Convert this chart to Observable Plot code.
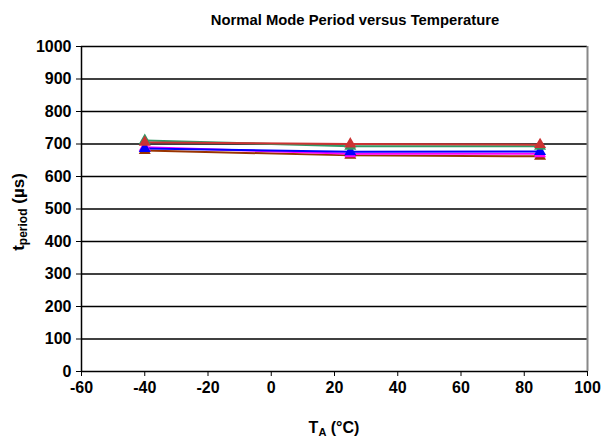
<!DOCTYPE html>
<html><head><meta charset="utf-8">
<script src="https://cdn.jsdelivr.net/npm/d3@7"></script>
<script src="https://cdn.jsdelivr.net/npm/@observablehq/plot@0.6"></script>
<style>body{margin:0;background:#fff;font-family:"Liberation Sans",Arial,sans-serif;}</style>
</head><body><div id="chart"></div>
<script>
const temps = [-40, 25, 85];
const seriesNames = ["S1", "S2", "S3", "S4", "S5"];
const seriesColors = ["#993300", "#FF00FF", "#0000FF", "#339966", "#CC3333"];
const seriesValues = [
  [680, 665, 662],
  [690, 670, 670],
  [686, 676, 677],
  [711, 693, 693],
  [705, 700, 698]
];
const xTicks = [-60, -40, -20, 0, 20, 40, 60, 80, 100];
const yTicks = [0, 100, 200, 300, 400, 500, 600, 700, 800, 900, 1000];

const data = [];
seriesNames.forEach((s, i) => temps.forEach((t, j) => data.push({series: s, t, v: seriesValues[i][j]})));

const W = 604, H = 444, mL = 81, mR = 17, mT = 46, mB = 73;
const plot = Plot.plot({
  width: W, height: H,
  marginLeft: mL, marginRight: mR, marginTop: mT, marginBottom: mB,
  style: {fontFamily: "'Liberation Sans', Arial, sans-serif", background: "#fff", overflow: "visible", color: "#000"},
  x: {domain: [-60, 100]},
  y: {domain: [0, 1000]},
  color: {domain: seriesNames, range: seriesColors},
  marks: [
    Plot.ruleY(yTicks, {stroke: "#000", strokeWidth: 1.5}),
    Plot.ruleX([100], {stroke: "#888", strokeWidth: 2}),
    Plot.ruleX([-60], {stroke: "#000", strokeWidth: 1.5}),
    Plot.axisX({ticks: xTicks, tickSize: 5, tickPadding: 5, fontSize: 16, fontWeight: "bold", stroke: "#000", label: null, tickFormat: d => String(d).replace("−", "-")}),
    Plot.axisY({ticks: yTicks, tickSize: 5, tickPadding: 5, fontSize: 16, fontWeight: "bold", stroke: "#000", label: null, tickFormat: d => String(d)}),
    Plot.line(data, {x: "t", y: "v", z: "series", stroke: "series", strokeWidth: 2}),
    Plot.dot(data, {x: "t", y: "v", fill: "series", stroke: "series", symbol: "triangle", r: 3.5})
  ]
});
document.getElementById("chart").appendChild(plot);
const svg = d3.select(plot);
svg.selectAll("g[aria-label='x-axis tick label'] text, g[aria-label='y-axis tick label'] text, g[aria-label='x-axis tick label'], g[aria-label='y-axis tick label']")
  .attr("font-weight", "bold").attr("font-size", 16).attr("fill", "#000").style("font-weight", "bold");
const font = "'Liberation Sans', Arial, sans-serif";
svg.append("text").attr("x", 355).attr("y", 25).attr("text-anchor", "middle")
  .attr("font-family", font).attr("font-size", 14.8).attr("font-weight", "bold").text("Normal Mode Period versus Temperature");
const xl = svg.append("text").attr("x", 334).attr("y", 433).attr("text-anchor", "middle")
  .attr("font-family", font).attr("font-size", 16).attr("font-weight", "bold");
xl.append("tspan").text("T");
xl.append("tspan").attr("font-size", 11).attr("dy", 3).text("A");
xl.append("tspan").attr("dy", -3).text(" (°C)");
const yl = svg.append("text").attr("transform", "translate(24,212) rotate(-90)").attr("text-anchor", "middle")
  .attr("font-family", font).attr("font-size", 17).attr("font-weight", "bold");
yl.append("tspan").text("t");
yl.append("tspan").attr("font-size", 12).attr("dy", 3).text("period");
yl.append("tspan").attr("dy", -3).text(" (µs)");
</script></body></html>
